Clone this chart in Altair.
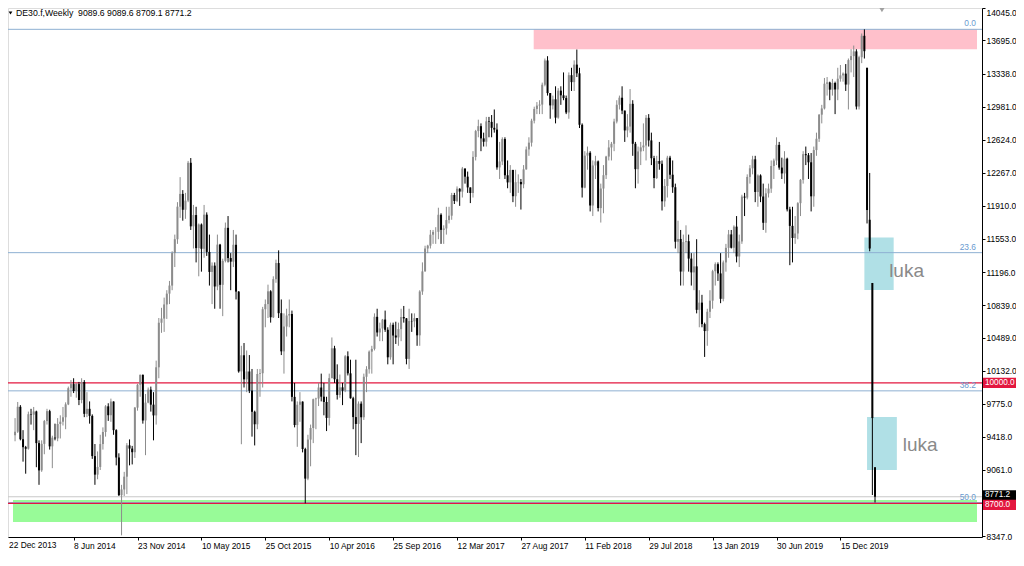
import altair as alt
import pandas as pd

# ---------------- data ----------------
header_text = "DE30.f,Weekly\u00a0\u00a09089.6 9089.6 8709.1 8771.2"

date_labels = ["22 Dec 2013", "8 Jun 2014", "23 Nov 2014", "10 May 2015", "25 Oct 2015",
               "10 Apr 2016", "25 Sep 2016", "12 Mar 2017", "27 Aug 2017", "11 Feb 2018",
               "29 Jul 2018", "13 Jan 2019", "30 Jun 2019", "15 Dec 2019"]
label_weeks = [0, 24, 48, 72, 96, 120, 144, 168, 192, 216, 240, 264, 288, 312]

price_ticks = [14045, 13695, 13338, 12981, 12624, 12267, 11910, 11553, 11196,
               10839, 10489, 10132, 9775, 9418, 9061, 8347]

# weekly candles, week 0 = 22 Dec 2013
closes = [
    9589, 9435, 9473, 9742, 9392, 9306, 9290, 9662, 9657, 9692,
    9350, 9056, 9342, 9588, 9695, 9315, 9409, 9401, 9556, 9581,
    9629, 9768, 9943, 9987, 9912, 9987, 9815, 10009, 9666, 9720,
    9644, 9210, 9010, 9093, 9340, 9470, 9747, 9651, 9799, 9490,
    9195, 8788, 8850, 8988, 9326, 9291, 9252, 9733, 9980, 10087,
    9594, 9787, 9927, 9765, 9649, 10168, 10649, 10694, 10846, 10963,
    11050, 11401, 11550, 11901, 12039, 11868, 11967, 12375, 11689, 11811,
    11454, 11709, 11447, 11815, 11413, 11197, 11265, 11040, 11492, 11058,
    11316, 11673, 11347, 11308, 11490, 10985, 10124, 10298, 10038, 10123,
    9916, 9688, 9553, 10096, 10104, 10795, 10850, 10988, 10708, 11119,
    11293, 10752, 10340, 10608, 10727, 10743, 9849, 9545, 9764, 9798,
    9286, 8967, 9388, 9513, 9824, 9831, 9950, 9851, 9794, 9622,
    10051, 10373, 10039, 9870, 9952, 9916, 10287, 10103, 9834, 9631,
    9557, 9776, 9629, 10066, 10147, 10337, 10367, 10713, 10544, 10587,
    10683, 10573, 10276, 10627, 10511, 10490, 10580, 10711, 10696, 10259,
    10667, 10664, 10699, 10513, 10986, 11203, 11450, 11481, 11599, 11629,
    11630, 11814, 11651, 11666, 11757, 11804, 12027, 11963, 12095, 12064,
    12313, 12225, 12109, 12049, 12438, 12717, 12770, 12638, 12602, 12822,
    12816, 12752, 12733, 12325, 12389, 12631, 12240, 12163, 12297, 12014,
    12165, 12168, 12143, 12304, 12519, 12592, 12829, 12956, 12992, 13003,
    13217, 13479, 13127, 12994, 13060, 12862, 13153, 13103, 13073, 12918,
    13320, 13245, 13434, 13340, 12785, 12107, 12452, 12483, 11914, 12346,
    12390, 11886, 12097, 12241, 12442, 12540, 12580, 12820, 13001, 13077,
    12938, 12724, 12766, 13011, 12580, 12306, 12497, 12541, 12561, 12860,
    12616, 12424, 12210, 12394, 12364, 11959, 12124, 12430, 12246, 12111,
    11523, 11553, 11201, 11519, 11529, 11341, 11192, 11257, 10788, 10866,
    10634, 10559, 10767, 10887, 11205, 11281, 11181, 10907, 11300, 11457,
    11602, 11458, 11686, 11364, 11526, 12010, 11999, 12222, 12315, 12412,
    12060, 12238, 12011, 11727, 12045, 12096, 12340, 12399, 12568, 12323,
    12260, 12419, 11872, 11694, 11563, 11612, 11939, 12191, 12468, 12457,
    12380, 12013, 12512, 12634, 12894, 12961, 13228, 13242, 13164, 13236,
    13166, 13282, 13318, 13337, 13219, 13483, 13526, 13577, 12982, 13514,
    13745, 13579, 11865, 11450, 9620, 8771.2,
]
highs = [
    9600, 9620, 9620, 9794, 9760, 9490, 9320, 9690, 9720, 9740,
    9700, 9380, 9380, 9600, 9720, 9710, 9430, 9560, 9620, 9650,
    9740, 9790, 9960, 10030, 10050, 10000, 10010, 10050, 10030, 9900,
    9800, 9660, 9340, 9260, 9440, 9520, 9760, 9780, 9830, 9800,
    9500, 9240, 8900, 9040, 9350, 9390, 9320, 9740, 9990, 10090,
    10090, 9880, 9950, 9960, 9900, 10240, 10700, 10810, 10920, 11000,
    11100, 11420, 11600, 11950, 12220, 12080, 12050, 12395, 12426, 11920,
    11900, 11720, 11720, 11920, 11840, 11600, 11300, 11300, 11600, 11500,
    11340, 11730, 11800, 11400, 11650, 11600, 10990, 10400, 10430, 10350,
    10300, 10150, 9700, 10150, 10150, 10820, 10900, 11060, 11000, 11150,
    11330, 11430, 10900, 10750, 10800, 10900, 10780, 10000, 9800, 9900,
    9800, 9300, 9440, 9550, 9830, 9840, 10000, 10100, 10000, 9850,
    10100, 10490, 10400, 10200, 10090, 10000, 10300, 10340, 10250, 9850,
    10250, 9800, 9800, 10100, 10180, 10350, 10400, 10750, 10800, 10650,
    10690, 10780, 10600, 10650, 10650, 10660, 10650, 10800, 10830, 10700,
    10800, 10750, 10750, 10700, 11000, 11300, 11480, 11490, 11650, 11650,
    11680, 11890, 11830, 11700, 11900, 11900, 12050, 12050, 12120, 12100,
    12330, 12300, 12280, 12100, 12500, 12730, 12840, 12800, 12700, 12870,
    12870, 12890, 12950, 12800, 12600, 12650, 12650, 12400, 12350, 12300,
    12300, 12250, 12200, 12350, 12550, 12650, 12850, 12980, 13030, 13050,
    13240, 13500, 13525, 13100, 13100, 13200, 13180, 13200, 13350, 13100,
    13350, 13400, 13480, 13597, 13400, 12800, 12500, 12550, 12500, 12400,
    12450, 12400, 12150, 12350, 12450, 12620, 12600, 12850, 13050, 13100,
    13200, 12900, 12900, 13170, 13050, 12600, 12550, 12600, 12800, 12890,
    12900, 12700, 12450, 12450, 12600, 12400, 12200, 12450, 12450, 12400,
    12150, 11750, 11650, 11600, 11700, 11600, 11400, 11400, 11550, 11000,
    10950, 10650, 10800, 11000, 11220, 11300, 11300, 11400, 11320, 11500,
    11650, 11650, 11700, 11800, 11600, 12030, 12050, 12250, 12350, 12450,
    12450, 12250, 12250, 12150, 12100, 12150, 12400, 12420, 12650, 12600,
    12430, 12500, 12430, 11900, 11900, 11800, 11950, 12200, 12500, 12550,
    12480, 12480, 12550, 12700, 12900, 13000, 13290, 13300, 13250, 13280,
    13250, 13400, 13430, 13350, 13440, 13500, 13600, 13640, 13600, 13530,
    13770, 13815, 13400, 12265, 11078, 9089.6,
]
lows = [
    9390, 9380, 9370, 9460, 9380, 9150, 9020, 9280, 9550, 9490,
    9090, 8900, 9040, 9230, 9550, 9280, 9080, 9380, 9370, 9400,
    9540, 9500, 9760, 9850, 9890, 9840, 9760, 9780, 9630, 9630,
    9560, 9180, 8900, 8960, 9060, 9280, 9420, 9590, 9580, 9440,
    9110, 8780, 8355, 8780, 8800, 9110, 9120, 9190, 9700, 9850,
    9560, 9220, 9780, 9690, 9380, 9550, 10050, 10540, 10550, 10690,
    10850, 11000, 11250, 11500, 11780, 11750, 11770, 11950, 11650, 11450,
    11300, 11150, 11200, 11350, 11370, 11050, 10850, 10800, 11000, 10800,
    10720, 11300, 11300, 11000, 11250, 10900, 10110, 9338, 9950, 9900,
    9890, 9420, 9325, 9500, 9850, 9950, 10600, 10700, 10650, 10700,
    11080, 10700, 10300, 10100, 10500, 10600, 9800, 9520, 9310, 9580,
    9250, 8700, 8950, 9100, 9350, 9500, 9750, 9800, 9650, 9480,
    9540, 10050, 10000, 9820, 9840, 9760, 9900, 10080, 9830, 9500,
    9220, 9200, 9350, 9600, 9900, 10100, 10100, 10350, 10500, 10450,
    10450, 10550, 10200, 10250, 10200, 10420, 10400, 10450, 10650, 10200,
    10150, 10550, 10600, 10400, 10400, 10950, 11200, 11400, 11450, 11500,
    11500, 11550, 11500, 11500, 11600, 11720, 11760, 11930, 11950, 11910,
    12000, 12150, 12050, 11940, 12000, 12400, 12650, 12500, 12550, 12550,
    12650, 12650, 12700, 12300, 12200, 12350, 12200, 12100, 12050, 11950,
    11900, 12050, 11870, 12100, 12300, 12450, 12550, 12800, 12900, 12900,
    12900, 13200, 13100, 12850, 12950, 12800, 12850, 13000, 13050, 12900,
    12850, 13150, 13150, 13300, 12750, 12000, 12100, 12300, 11850, 11800,
    12200, 11850, 11730, 11830, 12200, 12400, 12400, 12500, 12800, 12950,
    12900, 12600, 12650, 12700, 12450, 12100, 12150, 12350, 12500, 12400,
    12550, 12350, 12100, 12200, 12300, 11860, 11900, 12000, 12200, 12050,
    11450, 11400, 11050, 11050, 11400, 11200, 11050, 11000, 10750, 10600,
    10600, 10280, 10400, 10700, 10800, 11050, 11100, 10860, 10880, 11200,
    11350, 11450, 11400, 11300, 11250, 11500, 11800, 11980, 12150, 12250,
    11950, 11900, 11950, 11650, 11620, 12000, 12050, 12200, 12350, 12300,
    12200, 12150, 11850, 11270, 11300, 11500, 11550, 11800, 12150, 12350,
    12200, 11850, 11900, 12450, 12600, 12800, 12950, 13100, 13050, 13100,
    12900, 13050, 13250, 13250, 13150, 12950, 13350, 13300, 12950, 12950,
    13450, 13500, 11720, 11420, 8790, 8709.1,
]
# opening prices that differ from the previous close (gaps)
open_gaps = {0: 9400, 322: 13400, 323: 11760, 324: 11078, 325: 9089.6}

# horizontal levels
fib_levels = [13815, 11405, 9914, 8709]
fib_names = ["0.0", "23.6", "38.2", "50.0"]
red_levels = [10000, 8700]
bid_price = 8771.2

# zones (week from, week to, price low, price high)
pink_zone = [196.8, 363.3, 13600, 13815]
green_zone = [1.23, 363.3, 8499, 8736]
gap_zones = [[321.0, 332.0, 11002, 11569], [322.0, 333.2, 9060, 9632]]
gap_texts = [[330.3, 11142, "luka"], [335.4, 9265, "luka"]]

# right-axis price boxes
box_prices = [10000, bid_price, 8700]
box_texts = ["10000.0", "8771.2", "8700.0"]
box_shift = [0, -1.5, 1.5]

# ---------------- build table ----------------
n = min(len(closes), len(highs), len(lows))
opens = [open_gaps[i] if i in open_gaps else closes[i - 1] for i in range(n)]
df = pd.DataFrame({"week": list(range(n)), "open": opens, "high": highs[:n],
                   "low": lows[:n], "close": closes[:n]})
df["dir"] = ["up" if c >= o else "down" for o, c in zip(df["open"], df["close"])]
df["btop"] = df[["open", "close"]].max(axis=1)
df["bbot"] = df[["open", "close"]].min(axis=1)
df["wtop"] = df[["high", "btop"]].max(axis=1)
df["wbot"] = df[["low", "bbot"]].min(axis=1)

W, H = 974, 529
X_DOM = [1.23, 363.3]
Y_DOM = [8337, 14045]
xs = alt.Scale(domain=X_DOM, nice=False, zero=False)
ys = alt.Scale(domain=Y_DOM, nice=False, zero=False)

FONT = "Liberation Sans"
BULL = "#8c8c8c"
BEAR = "#000000"
RED = "#e3173f"
FIBC = "#8eb0d2"
FIBT = "#6a9ad0"

label_expr = "[" + ",".join("'" + s + "'" for s in date_labels) + "][round(datum.value/24)]"

xaxis = alt.Axis(values=label_weeks[1:], labelExpr=label_expr, labelAlign="left", labelFontSize=8.4,
                 labelColor="black", tickColor="black", tickSize=3, labelPadding=1,
                 domainColor="black", grid=False, title=None, labelOverlap=False,
                 labelFont=FONT)
yaxis = alt.Axis(orient="right", values=price_ticks, format=".1f", labelFontSize=8.4,
                 labelColor="black", tickColor="black", tickSize=3, labelPadding=1,
                 domainColor="black", grid=False, title=None, labelOverlap=False,
                 labelFlush=0.5, labelFont=FONT)


def X(field="week"):
    return alt.X(field + ":Q", scale=xs, axis=xaxis)


def Y(field):
    return alt.Y(field + ":Q", scale=ys, axis=yaxis)


# zones
zones_df = pd.DataFrame([
    {"x": pink_zone[0], "x2": pink_zone[1], "y": pink_zone[2], "y2": pink_zone[3], "c": "#ffc0cb"},
    {"x": green_zone[0], "x2": green_zone[1], "y": green_zone[2], "y2": green_zone[3], "c": "#98fb98"},
    {"x": gap_zones[0][0], "x2": gap_zones[0][1], "y": gap_zones[0][2], "y2": gap_zones[0][3], "c": "#b0e0e6"},
    {"x": gap_zones[1][0], "x2": gap_zones[1][1], "y": gap_zones[1][2], "y2": gap_zones[1][3], "c": "#b0e0e6"},
])
zones = alt.Chart(zones_df).mark_rect(opacity=1).encode(
    x=X("x"), x2="x2:Q", y=Y("y"), y2="y2:Q",
    fill=alt.Fill("c:N", scale=None))

fib_df = pd.DataFrame({"price": fib_levels, "name": fib_names, "wk": [X_DOM[1]] * len(fib_levels)})
fib_lines = alt.Chart(fib_df).mark_rule(color=FIBC, strokeWidth=1).encode(y=Y("price"))
fib_text = alt.Chart(fib_df).mark_text(align="right", baseline="bottom", dx=-1, dy=-1,
                                       fontSize=8.4, color=FIBT, font=FONT).encode(
    x=X("wk"), y=Y("price"), text="name:N")

bid_df = pd.DataFrame({"price": [bid_price]})
bid_line = alt.Chart(bid_df).mark_rule(color="#c8c8c8", strokeWidth=1).encode(y=Y("price"))

red_df = pd.DataFrame({"price": red_levels})
red_lines = alt.Chart(red_df).mark_rule(color=RED, strokeWidth=1.2).encode(y=Y("price"))

# candles (the first weeks sit in the left margin of the original and are clipped)
cand = alt.Chart(df).transform_filter(f"datum.week >= {X_DOM[0]}")
up_w = cand.transform_filter("datum.dir == 'up'").mark_rule(color=BULL, strokeWidth=1).encode(
    x=X(), y=Y("wbot"), y2="wtop:Q")
dn_w = cand.transform_filter("datum.dir == 'down'").mark_rule(color=BEAR, strokeWidth=1).encode(
    x=X(), y=Y("wbot"), y2="wtop:Q")
up_b = cand.transform_filter("datum.dir == 'up'").mark_bar(color=BULL, size=2, orient="vertical").encode(
    x=X(), y=Y("bbot"), y2="btop:Q")
dn_b = cand.transform_filter("datum.dir == 'down'").mark_bar(color=BEAR, size=2, orient="vertical").encode(
    x=X(), y=Y("bbot"), y2="btop:Q")

gap_df = pd.DataFrame(gap_texts, columns=["wk", "price", "t"])
gap_label = alt.Chart(gap_df).mark_text(align="left", baseline="alphabetic", fontSize=19,
                                        color="#8a8a8a", font=FONT).encode(
    x=X("wk"), y=Y("price"), text="t:N")

# price boxes on the right axis
BOX_W = 33
box_path = "M-1,-0.31L1,-0.31L1,0.31L-1,0.31Z"
box_df = pd.DataFrame({"price": box_prices, "t": box_texts, "c": [RED, "#000000", RED]})
box_layers = []
for i in range(len(box_df)):
    sub = box_df.iloc[[i]]
    box_layers.append(alt.Chart(sub).mark_point(shape=box_path, filled=True, opacity=1,
                                                size=BOX_W * BOX_W, strokeWidth=0,
                                                yOffset=box_shift[i]).encode(
        x=alt.value(W + 1 + BOX_W / 2), y=Y("price"), fill=alt.Fill("c:N", scale=None)))
    box_layers.append(alt.Chart(sub).mark_text(align="left", baseline="middle", fontSize=8.2,
                                               color="white", font=FONT,
                                               dy=box_shift[i]).encode(
        x=alt.value(W + 3), y=Y("price"), text="t:N"))

# first date label (its week lies at the very left edge of the plot)
first_df = pd.DataFrame({"t": [date_labels[0]]})
first_label = alt.Chart(first_df).mark_text(align="left", baseline="top", fontSize=8.4,
                                            color="black", font=FONT).encode(
    x=alt.value(1), y=alt.value(H + 4), text="t:N")

# header and markers
hdr_df = pd.DataFrame({"t": [header_text]})
header = alt.Chart(hdr_df).mark_text(align="left", baseline="middle", fontSize=8.7,
                                     color="black", font=FONT).encode(
    x=alt.value(8), y=alt.value(5), text="t:N")
hdr_tri = alt.Chart(hdr_df).mark_point(shape="triangle-down", filled=True, size=14,
                                       color="black", opacity=1).encode(
    x=alt.value(2.5), y=alt.value(5))
shift_df = pd.DataFrame({"wk": [327.6]})
shift_tri = alt.Chart(shift_df).mark_point(shape="triangle-down", filled=True, size=30,
                                           color="#a0a0a0", opacity=1).encode(
    x=X("wk"), y=alt.value(2))

chart = alt.layer(
    zones, fib_lines, bid_line, red_lines,
    up_w, dn_w, up_b, dn_b,
    fib_text, gap_label, *box_layers, first_label, header, hdr_tri, shift_tri,
).properties(
    width=W, height=H,
    autosize=alt.AutoSizeParams(type="none"),
    padding={"left": 0, "top": 0, "right": 34, "bottom": 14},
    background="white",
).configure_view(
    stroke="#808080", strokeWidth=1
).configure(font=FONT)

chart.save("out.html", embed_options={"renderer": "svg", "actions": False})
